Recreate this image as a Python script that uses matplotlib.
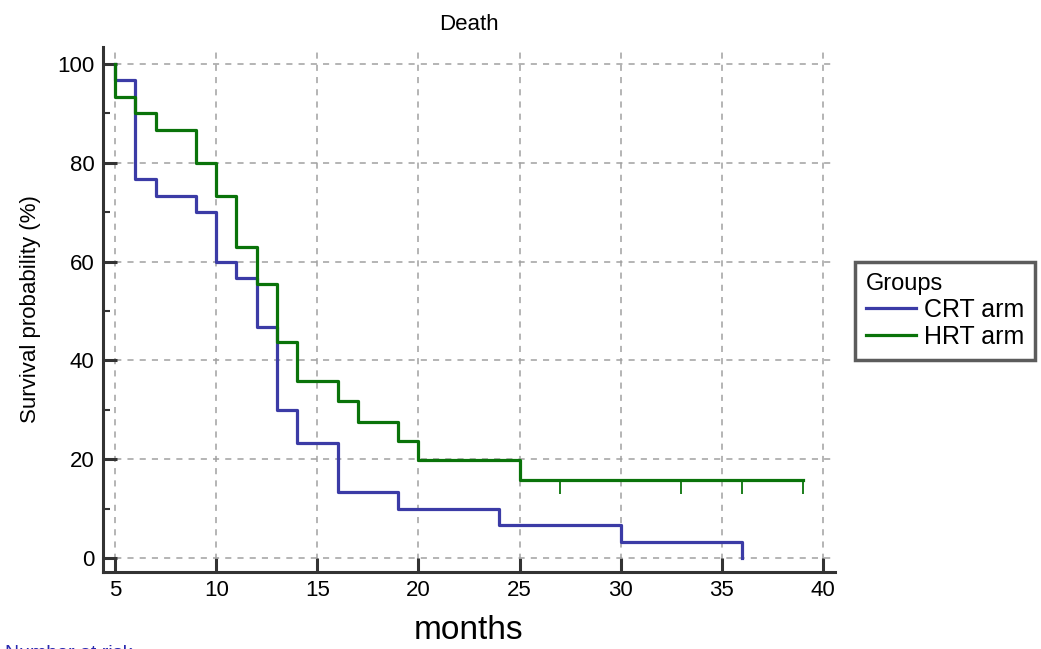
import numpy as np
import matplotlib
matplotlib.use("Agg")
from matplotlib import pyplot as plt

plt.rcParams['font.family'] = ['Liberation Sans', 'DejaVu Sans']

# Kaplan-Meier curves (months, survival %)
crt_t = [5, 5, 6, 7, 9, 10, 11, 12, 13, 14, 16, 19, 24, 30, 36, 36]
crt_s = [100, 96.7, 76.7, 73.3, 70.0, 60.0, 56.7, 46.7, 30.0, 23.3, 13.3, 10.0, 6.7, 3.3, 3.3, 0]

hrt_t = [5, 5, 6, 7, 9, 10, 11, 12, 13, 14, 16, 17, 19, 20, 25, 39]
hrt_s = [100, 93.3, 90.0, 86.7, 80.0, 73.3, 62.9, 55.5, 43.7, 35.9, 31.8, 27.6, 23.7, 19.9, 15.9, 15.9]

# censored observations (HRT arm)
hrt_cens_t = [27, 33, 36, 39]
hrt_cens_s = [15.9, 15.9, 15.9, 15.9]

xticks = [5, 10, 15, 20, 25, 30, 35, 40]
yticks = [0, 20, 40, 60, 80, 100]
yminor = [10, 30, 50, 70, 90]

blue = '#3b3ba6'
green = '#0a730a'

fig = plt.figure(figsize=(10.41, 6.49), dpi=100)
ax = fig.add_axes([0.099, 0.1186, 0.703, 0.809])

ax.step(crt_t, crt_s, where='post', color=blue, lw=2.3, label='CRT arm', zorder=3)
ax.step(hrt_t, hrt_s, where='post', color=green, lw=2.3, label='HRT arm', zorder=4)

# censor ticks hang below the line
ax.plot(hrt_cens_t, hrt_cens_s, ls='none', marker=[(0, 0), (0, -1)],
        markersize=20, mew=1.3, color=green, zorder=4)

ax.set_xlim(4.4, 40.6)
ax.set_ylim(-2.8, 103.4)
ax.set_xticks(xticks)
ax.set_yticks(yticks)
ax.set_yticks(yminor, minor=True)

ax.grid(True, which='major', color='#a0a0a0', ls=(0, (4, 4)), lw=1.1, zorder=0)

for s in ['top', 'right']:
    ax.spines[s].set_visible(False)
for s in ['left', 'bottom']:
    ax.spines[s].set_color('#333333')
    ax.spines[s].set_linewidth(2.2)

ax.tick_params(axis='both', which='major', direction='in', length=10, width=2.2,
               color='#333333', labelsize=16, pad=6)
ax.tick_params(axis='y', which='minor', direction='in', length=5, width=1.5,
               color='#333333')

ax.set_title('Death', fontsize=16, pad=12)
ax.set_ylabel('Survival probability (%)', fontsize=16, labelpad=12)
ax.set_xlabel('months', fontsize=24, labelpad=10)

leg = ax.legend(title='Groups', loc='center left', bbox_to_anchor=(1.0276, 0.497),
                fontsize=18, title_fontsize=17, frameon=True, fancybox=False,
                handlelength=2.0, handletextpad=0.3, borderpad=0.45,
                labelspacing=0.12, borderaxespad=0)
leg._legend_box.align = 'left'
leg.get_frame().set_edgecolor('#333333')
leg.get_frame().set_linewidth(2.5)

# "Number at risk" table heading, cut off by the image edge
fig.text(0.005, 1 - 645 / 649, 'Number at risk', va='top', ha='left',
         fontsize=14, color='#2a2ab0')

fig.savefig('out.png', dpi=100)
